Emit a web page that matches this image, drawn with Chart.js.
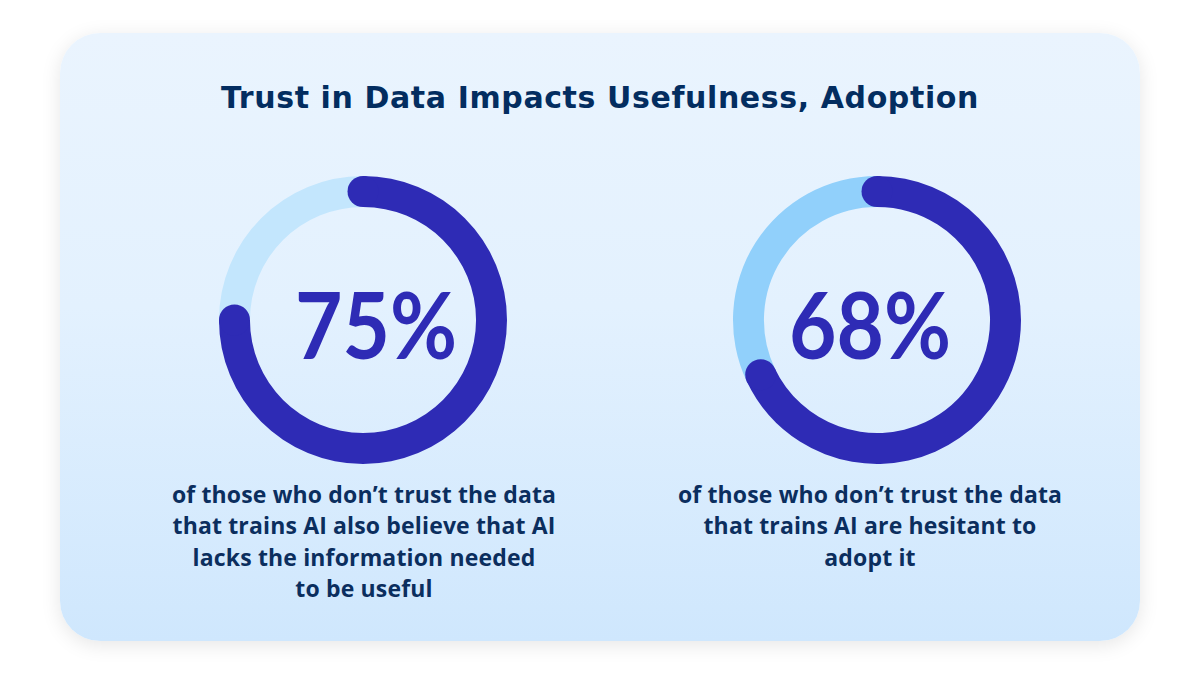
<!DOCTYPE html>
<html>
<head>
<meta charset="utf-8">
<script src="https://cdn.jsdelivr.net/npm/chart.js@4.4.1/dist/chart.umd.min.js"></script>
<style>
  html, body { margin: 0; padding: 0; background: #ffffff; }
  body { width: 1200px; height: 675px; position: relative; overflow: hidden; }
  #card {
    position: absolute; left: 60px; top: 33px; width: 1080px; height: 608px;
    border-radius: 40px;
    background: linear-gradient(180deg, #EAF4FE 0%, #E3F1FE 45%, #CFE7FD 100%);
    box-shadow: 0 4px 20px rgba(0, 0, 0, 0.10);
  }
  #title {
    position: absolute; left: 0; width: 1200px; top: 80px; text-align: center;
    font-family: "DejaVu Sans", sans-serif; font-weight: 700; font-size: 30px; line-height: 36px;
    color: #032D60; letter-spacing: 0.6px;
  }
  canvas { position: absolute; }
  .caption {
    position: absolute; width: 480px; text-align: center;
    font-family: "Open Sans", sans-serif; font-weight: 700; font-size: 23px; line-height: 31.3px;
    color: #0B2E5E; letter-spacing: 0.15px;
  }
</style>
</head>
<body>
<div id="card"></div>
<div id="title"></div>
<canvas id="c1" width="300" height="300" style="left:213px; top:170px;"></canvas>
<canvas id="c2" width="300" height="300" style="left:727px; top:170px;"></canvas>
<div class="caption" id="cap1" style="left:124px; top:479px;"></div>
<div class="caption" id="cap2" style="left:630px; top:479px;"></div>
<script>
// ---- data ----
const titleText = "Trust in Data Impacts Usefulness, Adoption";
const categories = ["Share", "Rest"];
const values1 = [75, 25];
const values2 = [68, 32];
const caption1 = ["of those who don\u2019t trust the data", "that trains AI also believe that AI", "lacks the information needed", "to be useful"];
const caption2 = ["of those who don\u2019t trust the data", "that trains AI are hesitant to", "adopt it"];

// ---- styles ----
const DARK = "#2E2BB5";
const LIGHT1 = "#C3E6FD";
const LIGHT2 = "#91D0FB";

document.getElementById("title").textContent = titleText;
document.getElementById("cap1").innerHTML = caption1.join("<br>");
document.getElementById("cap2").innerHTML = caption2.join("<br>");

const capsAndLabel = {
  id: "capsAndLabel",
  afterDatasetsDraw(chart, args, opts) {
    const ctx = chart.ctx;
    const arc = chart.getDatasetMeta(0).data[0];
    const p = arc.getProps(["x", "y", "startAngle", "endAngle", "innerRadius", "outerRadius"], true);
    const mid = (p.innerRadius + p.outerRadius) / 2;
    const r = (p.outerRadius - p.innerRadius) / 2;
    ctx.save();
    ctx.fillStyle = DARK;
    [p.startAngle, p.endAngle].forEach(a => {
      ctx.beginPath();
      ctx.arc(p.x + Math.cos(a) * mid, p.y + Math.sin(a) * mid, r, 0, Math.PI * 2);
      ctx.fill();
    });
    const v = chart.data.datasets[0].data[0];
    ctx.translate(p.x + (opts.dx || 0), p.y + (opts.dy || 0));
    ctx.scale(opts.sx || 1, 1);
    ctx.fillStyle = DARK;
    ctx.font = opts.font;
    ctx.textAlign = "center";
    ctx.textBaseline = "alphabetic";
    ctx.fillText(v + "%", 0, 0);
    ctx.restore();
  }
};

function makeDonut(id, values, light, dx) {
  return new Chart(document.getElementById(id), {
    type: "doughnut",
    data: {
      labels: categories,
      datasets: [{
        data: values,
        backgroundColor: [DARK, light],
        borderWidth: 0,
        hoverOffset: 0
      }]
    },
    options: {
      responsive: false,
      animation: false,
      cutout: "78.5%",
      layout: { padding: 6 },
      plugins: {
        legend: { display: false },
        tooltip: { enabled: false },
        capsAndLabel: { font: "700 92px Lato, sans-serif", dx: dx, dy: 39, sx: 0.89 }
      }
    },
    plugins: [capsAndLabel]
  });
}

makeDonut("c1", values1, LIGHT1, 13);
makeDonut("c2", values2, LIGHT2, -7);
</script>
</body>
</html>
